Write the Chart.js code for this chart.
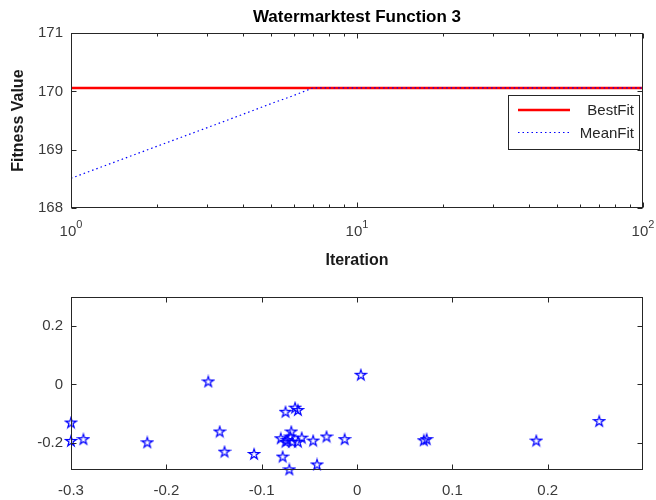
<!doctype html>
<html>
<head>
<title>Watermarktest Function 3</title>
<script src="https://cdn.jsdelivr.net/npm/chart.js@4.4.1/dist/chart.umd.min.js"></script>
<style>
  body { margin: 0; background: #fff; }
  canvas { position: absolute; left: 0; }
</style>
</head>
<body>
<canvas id="fitChart" width="656" height="280" style="top:0"></canvas>
<canvas id="popChart" width="656" height="220" style="top:280px"></canvas>
<script>
// convergence curve (log x)
var iterations = [1, 2, 3, 4, 5, 6, 7, 100];
var bestFit = [170.06, 170.06, 170.06, 170.06, 170.06, 170.06, 170.06, 170.06];
var meanFit = [168.51, 169.06, 169.38, 169.61, 169.79, 169.93, 170.06, 170.06];
var fitYTicks = [168, 169, 170, 171];
var iterTicks = [1, 10, 100];
var iterTickBase = '10';
var iterTickExp = ['0', '1', '2'];
var iterMinorTicks = [2, 3, 4, 5, 6, 7, 8, 9, 20, 30, 40, 50, 60, 70, 80, 90];

// final population
var popX = [-0.300, -0.300, -0.287, -0.220, -0.156, -0.144, -0.139, -0.108, -0.046, -0.042,
            -0.032, -0.075, -0.065, -0.062, -0.069, -0.080, -0.075, -0.073, -0.070, -0.068,
            -0.062, -0.058, -0.078, -0.071, -0.013, 0.004, 0.070, 0.073, 0.188, 0.254];
var popY = [-0.131, -0.194, -0.188, -0.199, 0.010, -0.162, -0.231, -0.239, -0.193, -0.275,
            -0.179, -0.094, -0.080, -0.088, -0.162, -0.185, -0.197, -0.191, -0.179, -0.197,
            -0.197, -0.183, -0.248, -0.292, -0.188, 0.033, -0.192, -0.188, -0.193, -0.126];
var popXTicks = [-0.3, -0.2, -0.1, 0, 0.1, 0.2];
var popXTickLabels = ['-0.3', '-0.2', '-0.1', '0', '0.1', '0.2'];
var popYTicks = [-0.2, 0, 0.2];
var popYTickLabels = ['-0.2', '0', '0.2'];

var FONT = '"Liberation Sans", Arial, Helvetica, sans-serif';
var AXIS = '#262626';
var TICKTXT = '#3a3a3a';
Chart.defaults.font.family = FONT;
Chart.defaults.color = TICKTXT;

// matlab style box with inward ticks on all four sides
var boxTicks = {
  id: 'boxTicks',
  afterDatasetsDraw: function(chart, args, opts) {
    var ctx = chart.ctx, a = chart.chartArea, sx = chart.scales.x, sy = chart.scales.y;
    var l = Math.round(a.left) + 0.5, r = Math.round(a.right) - 0.5;
    var t = Math.round(a.top) + 0.5, b = Math.round(a.bottom) - 0.5;
    ctx.save();
    ctx.strokeStyle = AXIS;
    ctx.lineWidth = 1;
    ctx.beginPath();
    opts.x.forEach(function(tk) {
      var px = Math.round(sx.getPixelForValue(tk[0])) + 0.5;
      ctx.moveTo(px, b); ctx.lineTo(px, b - tk[1]);
      ctx.moveTo(px, t); ctx.lineTo(px, t + tk[1]);
    });
    opts.y.forEach(function(tk) {
      var py = Math.round(sy.getPixelForValue(tk[0])) + 0.5;
      ctx.moveTo(l, py); ctx.lineTo(l + tk[1], py);
      ctx.moveTo(r, py); ctx.lineTo(r - tk[1], py);
    });
    ctx.stroke();
    ctx.strokeRect(l, t, r - l, b - t);
    ctx.restore();
  }
};

// 10^n labels with a raised exponent
var logLabels = {
  id: 'logLabels',
  afterDraw: function(chart) {
    var ctx = chart.ctx, sx = chart.scales.x, y = chart.chartArea.bottom + 23.5;
    ctx.save();
    ctx.fillStyle = TICKTXT;
    ctx.textAlign = 'left';
    ctx.textBaseline = 'middle';
    iterTicks.forEach(function(v, i) {
      ctx.font = '15px ' + FONT;
      var wb = ctx.measureText(iterTickBase).width;
      ctx.font = '11px ' + FONT;
      var we = ctx.measureText(iterTickExp[i]).width;
      var x0 = sx.getPixelForValue(v) - (wb + we) / 2;
      ctx.font = '15px ' + FONT;
      ctx.fillText(iterTickBase, x0, y);
      ctx.font = '11px ' + FONT;
      ctx.fillText(iterTickExp[i], x0 + wb, y - 7);
    });
    ctx.restore();
  }
};

var fitLegend = {
  id: 'fitLegend',
  afterDraw: function(chart) {
    var ctx = chart.ctx, a = chart.chartArea;
    var w = 131, h = 54, x = Math.round(a.right) - 4 - w, y = Math.round(a.top) + 62;
    ctx.save();
    ctx.fillStyle = '#fff';
    ctx.fillRect(x, y, w, h);
    ctx.strokeStyle = AXIS;
    ctx.lineWidth = 1;
    ctx.strokeRect(x + 0.5, y + 0.5, w, h);
    chart.data.datasets.forEach(function(ds, i) {
      var ly = y + 15 + i * 22.5;
      ctx.beginPath();
      ctx.strokeStyle = ds.borderColor;
      ctx.lineWidth = ds.borderWidth;
      ctx.setLineDash(ds.borderDash || []);
      ctx.moveTo(x + 10, ly);
      ctx.lineTo(x + 62, ly);
      ctx.stroke();
      ctx.setLineDash([]);
      ctx.fillStyle = AXIS;
      ctx.font = '15px ' + FONT;
      ctx.textAlign = 'right';
      ctx.textBaseline = 'middle';
      ctx.fillText(ds.label, x + w - 5, ly + 1);
    });
    ctx.restore();
  }
};

new Chart(document.getElementById('fitChart'), {
  type: 'line',
  data: {
    datasets: [{
      label: 'BestFit',
      data: iterations.map(function(it, i) { return {x: it, y: bestFit[i]}; }),
      borderColor: '#ff0000',
      borderWidth: 2.5,
      pointRadius: 0,
      order: 1
    }, {
      label: 'MeanFit',
      data: iterations.map(function(it, i) { return {x: it, y: meanFit[i]}; }),
      borderColor: '#0000ff',
      borderWidth: 1.2,
      borderDash: [1.5, 3],
      pointRadius: 0,
      order: 0
    }]
  },
  options: {
    responsive: false,
    animation: false,
    events: [],
    layout: {padding: {left: 0, right: 13, top: 0, bottom: 0}},
    scales: {
      x: {
        type: 'logarithmic',
        min: 1, max: 100,
        grid: {display: false, drawTicks: false},
        border: {display: false},
        afterBuildTicks: function(s) { s.ticks = iterTicks.map(function(v) { return {value: v}; }); },
        afterFit: function(s) { s.height = 72; s.paddingLeft = 0; s.paddingRight = 0; },
        ticks: {
          autoSkip: false, maxRotation: 0, padding: 13,
          font: {size: 15},
          callback: function() { return ''; }
        },
        title: {display: true, text: 'Iteration', color: '#1a1a1a',
                font: {size: 16, weight: 'bold'}, padding: {top: 0, bottom: 10}}
      },
      y: {
        min: 168, max: 171,
        grid: {display: false, drawTicks: false},
        border: {display: false},
        afterBuildTicks: function(s) { s.ticks = fitYTicks.map(function(v) { return {value: v}; }); },
        afterFit: function(s) { s.width = 71; },
        ticks: {padding: 8, font: {size: 15}},
        title: {display: true, text: 'Fitness Value', color: '#1a1a1a',
                font: {size: 16, weight: 'bold'}, padding: {top: 9, bottom: 0}}
      }
    },
    plugins: {
      legend: {display: false},
      tooltip: {enabled: false},
      title: {
        display: true, text: 'Watermarktest Function 3', color: '#000',
        fullSize: false,
        font: {size: 17, weight: 'bold'},
        padding: {top: 7.5, bottom: 5.3}
      },
      boxTicks: {
        x: iterTicks.map(function(v) { return [v, 5]; })
             .concat(iterMinorTicks.map(function(v) { return [v, 3]; })),
        y: fitYTicks.map(function(v) { return [v, 5]; })
      }
    }
  },
  plugins: [boxTicks, fitLegend, logLabels]
});

// pentagram marker
var star = document.createElement('canvas');
star.width = 14; star.height = 14;
(function() {
  var c = star.getContext('2d'), R = 5.5, r = R * 0.382, cx = 7, cy = 7.4;
  c.beginPath();
  for (var k = 0; k < 10; k++) {
    var ang = -Math.PI / 2 + k * Math.PI / 5, rad = k % 2 ? r : R;
    var px = cx + rad * Math.cos(ang), py = cy + rad * Math.sin(ang);
    if (k === 0) c.moveTo(px, py); else c.lineTo(px, py);
  }
  c.closePath();
  c.strokeStyle = '#0000ff';
  c.lineWidth = 1.2;
  c.stroke();
})();

new Chart(document.getElementById('popChart'), {
  type: 'scatter',
  data: {
    datasets: [{
      label: 'population',
      data: popX.map(function(x, i) { return {x: x, y: popY[i]}; }),
      pointStyle: star,
      pointRadius: 6,
      borderColor: '#0000ff',
      clip: false
    }]
  },
  options: {
    responsive: false,
    animation: false,
    events: [],
    layout: {padding: {left: 0, right: 13, top: 17, bottom: 0}},
    scales: {
      x: {
        type: 'linear',
        min: -0.3, max: 0.2999,
        grid: {display: false, drawTicks: false},
        border: {display: false},
        afterBuildTicks: function(s) { s.ticks = popXTicks.map(function(v) { return {value: v}; }); },
        afterFit: function(s) { s.height = 30; s.paddingLeft = 0; s.paddingRight = 0; },
        ticks: {
          autoSkip: false, maxRotation: 0, padding: 12,
          font: {size: 15},
          callback: function(v, i) { return popXTickLabels[i]; }
        }
      },
      y: {
        type: 'linear',
        min: -0.294, max: 0.3,
        grid: {display: false, drawTicks: false},
        border: {display: false},
        afterBuildTicks: function(s) { s.ticks = popYTicks.map(function(v) { return {value: v}; }); },
        afterFit: function(s) { s.width = 71; },
        ticks: {
          padding: 8, font: {size: 15},
          callback: function(v, i) { return popYTickLabels[i]; }
        }
      }
    },
    plugins: {
      legend: {display: false},
      tooltip: {enabled: false},
      boxTicks: {
        x: popXTicks.map(function(v) { return [v, 5]; }),
        y: popYTicks.map(function(v) { return [v, 5]; })
      }
    }
  },
  plugins: [boxTicks]
});
</script>
</body>
</html>
